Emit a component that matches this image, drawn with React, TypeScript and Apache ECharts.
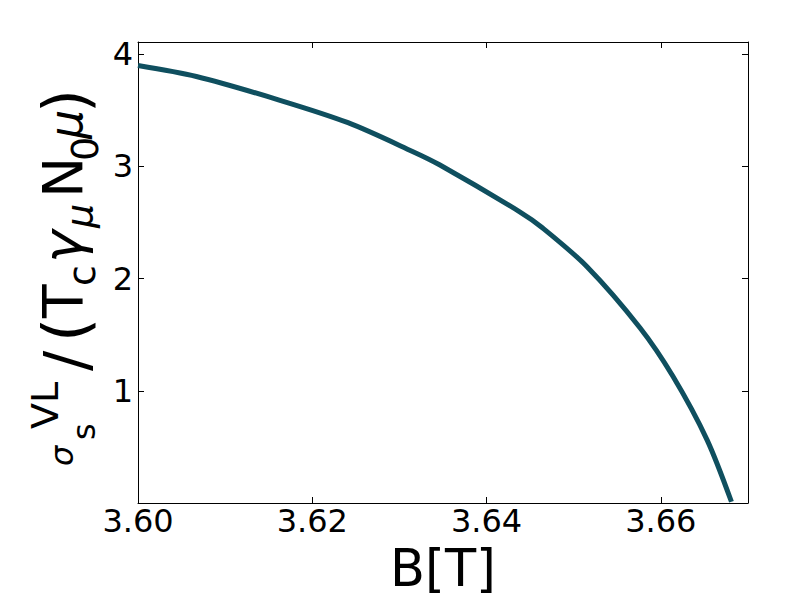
import React, { useEffect, useRef } from "react";
import * as echarts from "echarts";

// Magnetic field B [T] and sigma_s^VL / (Tc gamma_mu N0 mu)
const fieldB = [3.6, 3.6067, 3.6162, 3.6241, 3.6315, 3.6346, 3.6438, 3.6464, 3.6515, 3.6576, 3.6614, 3.6653, 3.6681];
const sigmaVL = [3.899, 3.801, 3.591, 3.389, 3.133, 3.014, 2.595, 2.453, 2.108, 1.562, 1.127, 0.563, 0.011];

const xTickLabels = ["3.60", "3.62", "3.64", "3.66"];
const yTickLabels = ["1", "2", "3", "4"];

const FONT = "DejaVu Sans";
const LINE_COLOR = "#0f4f5f";

// y-axis label pieces: text, size, position along reading direction, baseline offset, italic
const yLabelParts = [
  { t: "σ", size: 32, x: 4, base: -9, italic: true },
  { t: "s", size: 32, x: 30, base: 13, italic: false },
  { t: "VL", size: 38, x: 41, base: -24, italic: false },
  { t: "/", size: 60, x: 99, base: 5, italic: false },
  { t: "(", size: 62, x: 128, base: 5, italic: false },
  { t: "T", size: 55, x: 152, base: 0, italic: false },
  { t: "c", size: 38, x: 184, base: 13, italic: false },
  { t: "γ", size: 55, x: 207, base: 0, italic: true },
  { t: "μ", size: 38, x: 242, base: 10, italic: true },
  { t: "N", size: 55, x: 272, base: 0, italic: false },
  { t: "0", size: 38, x: 309, base: 16, italic: false },
  { t: "μ", size: 46, x: 331, base: 0, italic: true },
  { t: ")", size: 62, x: 357, base: 5, italic: false },
];

export default function App() {
  const ref = useRef<HTMLDivElement>(null);

  useEffect(() => {
    if (!ref.current) return;
    const chart = echarts.init(ref.current, null, { renderer: "svg" });
    const data = fieldB.map((b, i) => [b, sigmaVL[i]]);

    const axisLineStyle = { color: "#000", width: 1 };
    const tickCommon = { show: true, inside: true, length: 6, lineStyle: { color: "#000", width: 1 } };

    const option: any = {
      animation: false,
      backgroundColor: "#fff",
      grid: { left: 138, right: 64, top: 42, bottom: 109, containLabel: false },
      xAxis: [
        {
          type: "value",
          min: 3.6,
          max: 3.67,
          interval: 0.02,
          position: "bottom",
          axisLine: { show: true, onZero: false, lineStyle: axisLineStyle },
          axisTick: tickCommon,
          splitLine: { show: false },
          axisLabel: {
            show: true,
            margin: 2,
            fontSize: 32,
            fontFamily: FONT,
            color: "#000",
            showMaxLabel: false,
            formatter: (v: number) => {
              const s = v.toFixed(2);
              return xTickLabels.includes(s) ? s : "";
            },
          },
        },
        {
          type: "value",
          min: 3.6,
          max: 3.67,
          interval: 0.02,
          position: "top",
          axisLine: { show: true, onZero: false, lineStyle: axisLineStyle },
          axisTick: tickCommon,
          splitLine: { show: false },
          axisLabel: { show: false },
        },
      ],
      yAxis: [
        {
          type: "value",
          min: 0,
          max: 4.108,
          interval: 1,
          position: "left",
          axisLine: { show: true, onZero: false, lineStyle: axisLineStyle },
          axisTick: tickCommon,
          splitLine: { show: false },
          axisLabel: {
            show: true,
            margin: 5,
            fontSize: 32,
            fontFamily: FONT,
            color: "#000",
            showMinLabel: false,
            showMaxLabel: false,
            formatter: (v: number) => {
              const s = String(Math.round(v));
              return Math.abs(v - Math.round(v)) < 1e-6 && yTickLabels.includes(s) ? s : "";
            },
          },
        },
        {
          type: "value",
          min: 0,
          max: 4.108,
          interval: 1,
          position: "right",
          axisLine: { show: true, onZero: false, lineStyle: axisLineStyle },
          axisTick: tickCommon,
          splitLine: { show: false },
          axisLabel: { show: false },
        },
      ],
      series: [
        {
          type: "line",
          data,
          xAxisIndex: 0,
          yAxisIndex: 0,
          smooth: 0.3,
          showSymbol: false,
          symbol: "none",
          clip: true,
          lineStyle: { color: LINE_COLOR, width: 5 },
        },
      ],
      graphic: [
        {
          type: "text",
          x: 443,
          y: 568,
          style: {
            text: "B[T]",
            fontSize: 51,
            lineHeight: 40,
            fontFamily: FONT,
            fill: "#000",
            align: "center",
            verticalAlign: "middle",
          },
        },
        {
          type: "group",
          x: 82,
          y: 470,
          rotation: Math.PI / 2,
          children: yLabelParts.map((p) => ({
            type: "text",
            x: p.x,
            y: p.base - 0.346 * p.size,
            style: {
              text: p.t,
              fontSize: p.size,
              fontFamily: FONT,
              fontStyle: p.italic ? "italic" : "normal",
              fill: "#000",
              align: "left",
              verticalAlign: "middle",
            },
          })),
        },
      ],
    };

    chart.setOption(option);
    return () => chart.dispose();
  }, []);

  return (
    <div
      ref={ref}
      style={{ position: "fixed", left: 0, top: 0, width: 812, height: 612, background: "#fff" }}
    />
  );
}
